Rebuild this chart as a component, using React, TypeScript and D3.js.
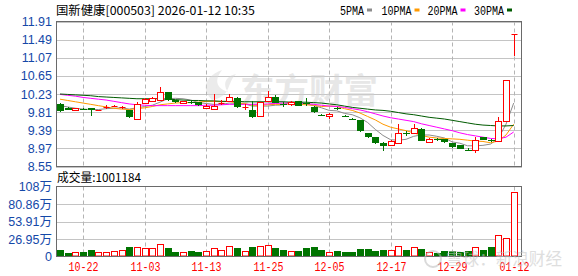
import React from 'react';
import * as d3 from 'd3';

const dates = ['10-17','10-20','10-21','10-22','10-23','10-24','10-27','10-28','10-29','10-30','10-31','11-03','11-04','11-05','11-06','11-07','11-10','11-11','11-12','11-13','11-14','11-17','11-18','11-19','11-20','11-21','11-24','11-25','11-26','11-27','11-28','12-01','12-02','12-03','12-04','12-05','12-08','12-09','12-10','12-11','12-12','12-15','12-16','12-17','12-18','12-19','12-22','12-23','12-24','12-25','12-26','12-29','12-30','12-31','01-05','01-06','01-07','01-08','01-09','01-12'];
const opens = [10.00,9.91,9.86,9.89,9.90,9.85,9.93,9.95,9.92,9.85,9.66,10.03,10.07,10.10,10.27,10.08,10.02,10.05,10.04,9.91,9.89,10.02,10.06,10.14,9.93,9.87,9.73,10.06,10.17,9.99,9.99,10.06,10.01,9.94,9.74,9.72,9.90,9.73,9.66,9.62,9.32,9.23,9.10,9.04,9.10,9.33,9.32,9.42,9.11,9.18,9.18,9.09,9.04,8.94,8.94,9.23,9.16,9.15,9.60,11.62];
const highs = [10.03,9.93,9.91,9.90,9.91,9.86,9.97,9.98,9.96,9.87,10.05,10.13,10.15,10.40,10.28,10.09,10.07,10.06,10.05,10.00,10.23,10.09,10.22,10.15,10.00,10.06,10.05,10.29,10.21,10.05,10.07,10.07,10.13,9.95,9.76,9.78,9.93,9.75,9.68,9.63,9.33,9.24,9.12,9.16,9.54,9.37,9.54,9.45,9.20,9.20,9.19,9.10,9.05,8.97,9.23,9.24,9.19,9.69,10.56,11.62];
const lows = [9.81,9.85,9.83,9.87,9.73,9.84,9.89,9.92,9.89,9.68,9.64,10.01,10.05,10.08,10.06,10.01,10.01,10.00,9.95,9.89,9.88,9.97,10.05,9.91,9.87,9.68,9.72,10.05,10.01,9.93,9.95,9.95,9.96,9.79,9.71,9.65,9.85,9.69,9.62,9.36,9.20,9.08,8.90,9.03,9.09,9.26,9.30,9.13,9.10,9.15,9.10,8.99,8.95,8.90,8.86,9.16,9.11,9.13,9.59,11.10];
const closes = [9.83,9.87,9.90,9.88,9.87,9.85,9.94,9.96,9.93,9.70,10.00,10.11,10.13,10.27,10.08,10.04,10.06,10.02,9.97,9.96,9.96,10.03,10.16,9.92,9.94,9.69,10.04,10.17,10.03,9.97,10.04,9.96,10.00,9.81,9.73,9.77,9.89,9.72,9.65,9.37,9.23,9.09,9.02,9.15,9.32,9.32,9.44,9.15,9.19,9.17,9.11,9.00,8.96,8.91,9.17,9.17,9.15,9.60,10.56,11.62];
const volumes = [9.4,4.7,6.3,6.3,9.4,6.3,6.3,7.8,9.4,14,14,12.5,12.5,18.8,12.5,6.3,6.3,7.8,6.3,7.8,12.5,9.4,15.6,12.5,7.8,14,15.6,17.2,12.5,9.4,7.8,7.8,12.5,14,9.4,6.3,7.8,6.3,6.3,11,11,7.8,9.4,9.4,15.6,9.4,14,11,6.3,4.7,7.8,7.8,6.3,7.8,14,9.4,14,33,28,100.1];
const ma5 = [9.96,9.93,9.90,9.88,9.87,9.87,9.89,9.90,9.91,9.88,9.91,9.94,9.97,10.04,10.12,10.13,10.12,10.09,10.03,10.01,9.99,9.99,10.02,10.01,10.00,9.95,9.95,9.95,9.97,9.98,10.05,10.03,10.00,9.96,9.91,9.85,9.84,9.78,9.75,9.68,9.57,9.41,9.27,9.17,9.16,9.18,9.25,9.28,9.28,9.25,9.21,9.12,9.09,9.03,9.03,9.04,9.07,9.20,9.53,10.02];
const ma10 = [10.11,10.08,10.05,10.02,9.99,9.96,9.93,9.90,9.88,9.87,9.89,9.91,9.94,9.98,10.00,10.02,10.03,10.03,10.04,10.06,10.06,10.05,10.06,10.02,10.01,9.97,9.97,9.98,9.99,9.99,10.00,9.99,9.98,9.97,9.94,9.95,9.94,9.89,9.85,9.79,9.71,9.63,9.53,9.46,9.42,9.38,9.33,9.27,9.23,9.21,9.20,9.19,9.18,9.16,9.14,9.13,9.10,9.14,9.28,9.53];
const ma20 = [10.22,10.20,10.18,10.15,10.13,10.11,10.09,10.06,10.03,10.00,9.98,9.97,9.96,9.96,9.96,9.96,9.96,9.96,9.96,9.97,9.97,9.98,9.99,9.99,9.99,9.99,9.99,10.00,10.01,10.02,10.02,10.02,10.01,9.99,9.97,9.95,9.94,9.92,9.89,9.86,9.82,9.77,9.72,9.68,9.65,9.62,9.59,9.54,9.50,9.46,9.42,9.38,9.33,9.29,9.26,9.23,9.20,9.19,9.23,9.35];
const ma30 = [10.23,10.22,10.21,10.20,10.19,10.17,10.16,10.15,10.14,10.13,10.12,10.12,10.12,10.12,10.11,10.10,10.09,10.08,10.08,10.07,10.07,10.06,10.06,10.06,10.05,10.05,10.05,10.05,10.05,10.05,10.04,10.04,10.04,10.03,10.02,10.00,9.98,9.95,9.92,9.90,9.88,9.86,9.85,9.83,9.80,9.77,9.75,9.72,9.69,9.67,9.65,9.62,9.59,9.56,9.53,9.51,9.50,9.49,9.49,9.50];
const priceTicks = [11.91, 11.49, 11.07, 10.65, 10.23, 9.81, 9.39, 8.97, 8.55];
const volTicks = [0, 26.95, 53.91, 80.86, 108];
const volTickLabels = ['0', '26.95万', '53.91万', '80.86万', '108万'];
const dateTicks = ['10-22', '11-03', '11-13', '11-25', '12-05', '12-17', '12-29', '01-12'];
const legendNames = ['5PMA', '10PMA', '20PMA', '30PMA'];
const title = '国新健康[000503] 2026-01-12 10:35';
const volTitle = '成交量:1001184';

const L = 56, R = 522, MT = 21.5, MB = 166.5, VT = 186.5, VB = 256.5;
const RED = '#ff0000', GREEN = '#007400';
const maColors = ['#8c8c8c', '#ff9900', '#ff00ff', '#005a00'];
const LABEL = '#1448a8';
const MONO = "'Liberation Mono', 'DejaVu Sans Mono', monospace";
const CJK = "'Noto Sans CJK SC', 'Liberation Mono', sans-serif";

export default function App() {
  const x = d3.scalePoint<string>().domain(dates).range([60, 513.7]);
  const y = d3.scaleLinear().domain([8.55, 11.91]).range([MB, MT]);
  const yv = d3.scaleLinear().domain([0, 108]).range([VB, VT]);
  const px = (d: string) => Math.round(x(d) as number) + 0.5;
  const mas = [ma5, ma10, ma20, ma30];
  const line = (arr: number[]) =>
    d3.line<number>().x((_, i) => x(dates[i]) as number).y((v) => y(v))(arr) || '';

  return (
    <svg width={578} height={276} style={{ position: 'absolute', left: 0, top: 0, background: '#fff' }}
      xmlns="http://www.w3.org/2000/svg">
      <rect x={0} y={0} width={578} height={276} fill="#fff" />
      {/* header */}
      <text x={56} y={15} fontSize={12} fontFamily={CJK} fill="#000" textLength={199} lengthAdjust="spacingAndGlyphs">{title}</text>
      {legendNames.map((n, i) => {
        const lx = [340, 381.5, 427.5, 474][i];
        return (
          <g key={n}>
            <text x={lx} y={15} fontSize={12} fontFamily={MONO} fill="#000" textLength={n.length * 6} lengthAdjust="spacingAndGlyphs">{n}</text>
            <rect x={lx + n.length * 6 + 3} y={8.5} width={5} height={3} fill={maColors[i]} />
          </g>
        );
      })}

      {/* main grid */}
      {priceTicks.map((t) => (
        <line key={'h' + t} x1={L} x2={R} y1={Math.round(y(t)) + 0.5} y2={Math.round(y(t)) + 0.5} stroke="#c4c4c4" />
      ))}
      {volTicks.slice(1, 4).map((t) => (
        <line key={'vh' + t} x1={L} x2={R} y1={Math.round(yv(t)) + 0.5} y2={Math.round(yv(t)) + 0.5} stroke="#c4c4c4" />
      ))}
      {dateTicks.map((d) => (
        <g key={'v' + d}>
          <line x1={px(d)} x2={px(d)} y1={MT} y2={MB} stroke="#b4b4b4" strokeDasharray="4,3" />
          <line x1={px(d)} x2={px(d)} y1={VT} y2={VB} stroke="#b4b4b4" strokeDasharray="4,3" />
        </g>
      ))}

      {/* watermark */}
      <g opacity={0.5}>
        <path d="M212,100 C200,88 206,76 222,70 C214,80 216,88 228,92 C222,84 226,76 236,74 C226,84 232,96 212,100 Z" fill="#d8d8d8" />
        <text x={240} y={103} fontSize={34} fontWeight="bold" fontFamily={CJK} fill="#d0d0d0" textLength={138} lengthAdjust="spacingAndGlyphs">东方财富</text>
      </g>

      {/* y labels */}
      {priceTicks.map((t) => (
        <text key={'yl' + t} x={52} y={y(t) + 4.5} textAnchor="end" fontSize={12.5} fontFamily="'Liberation Sans', Arial, sans-serif" fill={LABEL}>{t.toFixed(2)}</text>
      ))}
      {volTicks.map((t, i) => (
        <text key={'vl' + t} x={52} y={yv(t) + 4.5} textAnchor="end" fontSize={12.5} fontFamily={"'Liberation Sans', 'Noto Sans CJK SC', sans-serif"} fill={LABEL}>{volTickLabels[i]}</text>
      ))}

      {/* MA lines */}
      {mas.map((m, i) => (
        <path key={'ma' + i} d={line(m)} fill="none" stroke={maColors[i]} strokeWidth={1} />
      ))}

      {/* candles */}
      {dates.map((d, i) => {
        const o = opens[i], c = closes[i], h = highs[i], l = lows[i];
        const up = c >= o;
        const col = up ? RED : GREEN;
        const cx = px(d);
        const top = Math.round(y(Math.max(o, c)));
        const bot = Math.round(y(Math.min(o, c)));
        const hgt = Math.max(bot - top, 1);
        return (
          <g key={'c' + d}>
            <line x1={cx} x2={cx} y1={Math.round(y(h))} y2={Math.round(y(l))} stroke={col} />
            {up ? (
              hgt <= 1 ? (
                <line x1={cx - 3} x2={cx + 3} y1={top + 0.5} y2={top + 0.5} stroke={col} />
              ) : (
                <rect x={cx - 3} y={top + 0.5} width={6} height={hgt} fill="#fff" stroke={col} />
              )
            ) : (
              <rect x={cx - 3.5} y={top} width={7} height={Math.max(hgt, 1)} fill={col} />
            )}
          </g>
        );
      })}

      {/* volume bars */}
      {dates.map((d, i) => {
        const up = closes[i] >= opens[i];
        const cx = px(d);
        const top = Math.round(yv(volumes[i]));
        return up ? (
          <rect key={'vb' + d} x={cx - 3} y={top + 0.5} width={6} height={VB - 0.5 - top - 0.5} fill="#fff" stroke={RED} />
        ) : (
          <rect key={'vb' + d} x={cx - 3.5} y={top} width={7} height={VB - 0.5 - top} fill={GREEN} />
        );
      })}

      {/* frames */}
      <rect x={L + 0.5} y={MT} width={R - L - 1} height={MB - MT} fill="none" stroke="#6a6a6a" />
      <rect x={L + 0.5} y={VT} width={R - L - 1} height={VB - VT} fill="none" stroke="#6a6a6a" />

      {/* volume title */}
      <text x={57} y={182} fontSize={12} fontFamily={CJK} fill="#000" textLength={84} lengthAdjust="spacingAndGlyphs">{volTitle}</text>

      {/* x labels */}
      {dateTicks.map((d) => (
        <text key={'xl' + d} x={px(d)} y={271} textAnchor="middle" fontSize={12} fontFamily={MONO} fill={RED} textLength={30} lengthAdjust="spacingAndGlyphs">{d}</text>
      ))}

      {/* bottom watermark */}
      <g opacity={0.55}>
        <circle cx={433} cy={259} r={8} fill="none" stroke="#bcbcbc" strokeWidth={2} />
        <text x={446} y={265} fontSize={17} fontFamily={CJK} fill="#c4c4c4" textLength={116} lengthAdjust="spacingAndGlyphs">雪球：新浪财经</text>
      </g>
    </svg>
  );
}
